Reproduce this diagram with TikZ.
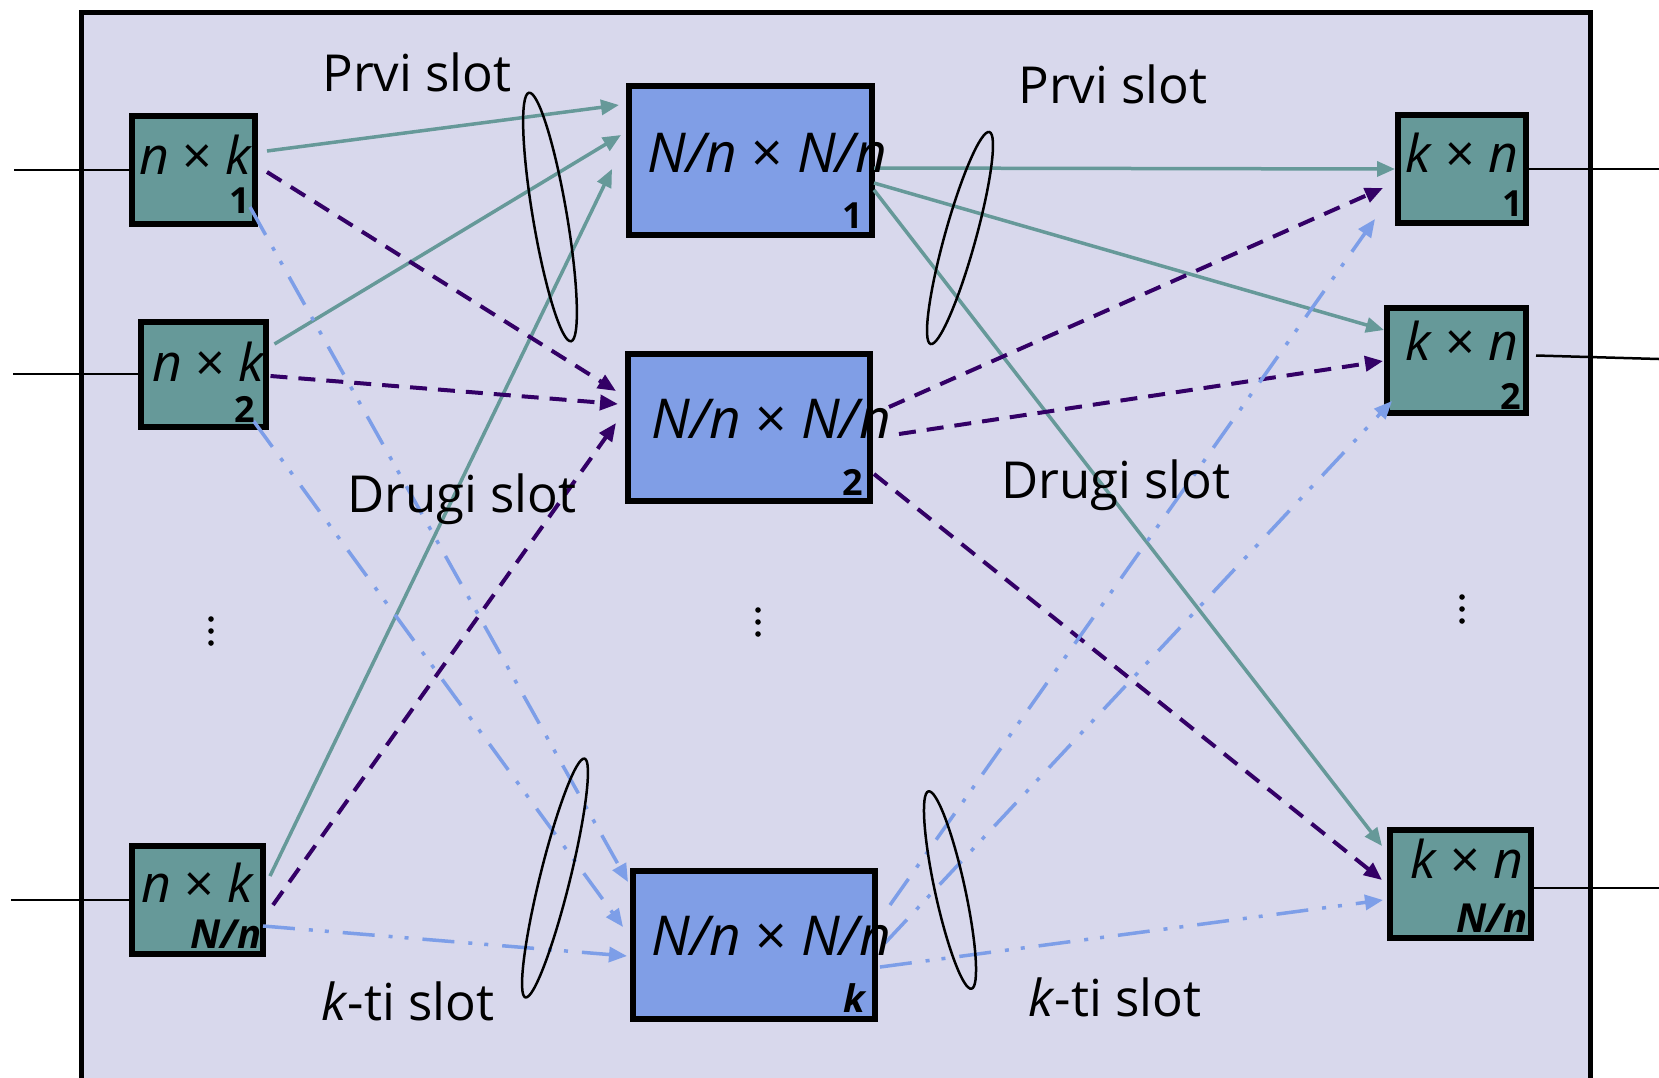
\documentclass[tikz,border=0pt]{standalone}
\usepackage{fontspec}
\setmainfont{Open Sans}
\usetikzlibrary{arrows.meta,calc}
\definecolor{bgc}{RGB}{216,216,236}
\definecolor{tealc}{RGB}{102,153,153}
\definecolor{bluebox}{RGB}{128,158,230}
\definecolor{purp}{RGB}{51,0,102}
\definecolor{lblue}{RGB}{125,158,232}
\begin{document}
\begin{tikzpicture}[x=1pt,y=-1pt,
  tbox/.style={draw=black,line width=6pt,fill=tealc,inner sep=0pt},
  mbox/.style={draw=black,line width=6pt,fill=bluebox,inner sep=0pt},
  biglab/.style={inner sep=0pt,anchor=base,font=\fontsize{52}{62}\selectfont},
  midlab/.style={inner sep=0pt,anchor=base,font=\fontsize{55}{64}\selectfont},
  sublab/.style={inner sep=0pt,anchor=base east,font=\bfseries\fontsize{36}{40}\selectfont},
  slotlab/.style={inner sep=0pt,anchor=base,font=\fontsize{51}{60}\selectfont},
  tip/.style={-{Triangle[length=18pt,width=15pt]}},
  tealline/.style={tip,draw=tealc,line width=3.5pt},
  purpline/.style={tip,draw=purp,line width=4pt,dash pattern=on 17pt off 11pt},
  blueline/.style={tip,draw=lblue,line width=3.5pt,dash pattern=on 32pt off 14pt on 4pt off 12pt on 4pt off 14pt},
  extline/.style={draw=black,line width=2.5pt},
  slotell/.style={draw=black,line width=2.5pt},
  vdot/.style={fill=black}]
\useasboundingbox (0,0) rectangle (1659,1077);
\fill[white] (0,0) rectangle (1659,1077);
\begin{scope}
\clip (0,0) rectangle (1659,1077);
\draw[fill=bgc,line width=5pt] (81,12) rectangle (1590,1100);
\end{scope}
% boxes
\node[tbox,minimum width=123pt,minimum height=108pt] (L1) at (193.5,170) {};
\node[tbox,minimum width=125pt,minimum height=105pt] (L2) at (203,374) {};
\node[tbox,minimum width=131pt,minimum height=108pt] (LN) at (197.5,900) {};
\node[mbox,minimum width=243pt,minimum height=149pt] (M1) at (750.5,160.5) {};
\node[mbox,minimum width=242pt,minimum height=147pt] (M2) at (749,427.5) {};
\node[mbox,minimum width=242pt,minimum height=148pt] (Mk) at (754,945) {};
\node[tbox,minimum width=128pt,minimum height=108pt] (R1) at (1462,169) {};
\node[tbox,minimum width=139pt,minimum height=105pt] (R2) at (1456.5,360.5) {};
\node[tbox,minimum width=141pt,minimum height=108pt] (RN) at (1460.5,884) {};
% external lines
\coordinate (iL1) at (14,170);
\coordinate (iL2) at (13,374);
\coordinate (iLN) at (11,900);
\coordinate (oR1) at (1659,169);
\coordinate (oR2) at (1659,359);
\coordinate (oRN) at (1659,888);
\draw[extline] (iL1) -- (L1.west);
\draw[extline] (iL2) -- (L2.west);
\draw[extline] (iLN) -- (LN.west);
\draw[extline] (R1.east) -- (oR1);
\draw[extline] ($(R2.east)+(7,-5)$) -- (oR2);
\draw[extline] ($(RN.east)+(0,4)$) -- (oRN);
% teal (first slot)
\draw[tealline] ($(L1.east)+(9,-19)$) -- ($(M1.west)+(-7,-55.5)$);
\draw[tealline] ($(L2.east)+(6,-30)$) -- ($(M1.west)+(-5,-25.5)$);
\draw[tealline] ($(LN.east)+(4,-24)$) -- ($(M1.west)+(-14,8.5)$);
\draw[tealline] ($(M1.east)+(-1,7.5)$) -- (R1.west);
\draw[tealline] ($(M1.east)+(-1,22.5)$) -- ($(R2.west)+(0,-30.5)$);
\draw[tealline] ($(M1.east)+(-1,29.5)$) -- ($(RN.west)+(-5,-38)$);
% purple (second slot)
\draw[purpline] ($(L1.east)+(9,2)$) -- ($(M2.west)+(-9,-36.5)$);
\draw[purpline] ($(L2.east)+(2,2)$) -- ($(M2.west)+(-7,-23.5)$);
\draw[purpline] ($(LN.east)+(7,5)$) -- ($(M2.west)+(-9,-4.5)$);
\draw[purpline] ($(M2.east)+(16,-20.5)$) -- ($(R1.west)+(-12,19)$);
\draw[purpline] ($(M2.east)+(26,6.5)$) -- ($(R2.west)+(-1,0.5)$);
\draw[purpline] ($(M2.east)+(1,46.5)$) -- ($(RN.west)+(-5,-4)$);
% blue (k-th slot)
\draw[blueline] ($(L1.east)+(-8,37)$) -- ($(Mk.west)+(-2,-63)$);
\draw[blueline] ($(L2.east)+(-15,47)$) -- ($(Mk.west)+(-7,-18)$);
\draw[blueline] ($(LN.east)+(-3,26)$) -- ($(Mk.west)+(-3,11)$);
\draw[blueline] ($(Mk.east)+(12,-40)$) -- ($(R1.west)+(-20,50)$);
\draw[blueline] ($(Mk.east)+(7,-2)$) -- ($(R2.west)+(8,40.5)$);
\draw[blueline] ($(Mk.east)+(2,22)$) -- ($(RN.west)+(-4,16)$);
% slot ellipses
\draw[slotell,rotate around={99.6:(550,217)}] (550,217) ellipse [x radius=126pt,y radius=17pt];
\draw[slotell,rotate around={74.5:(960,238)}] (960,238) ellipse [x radius=110pt,y radius=15.5pt];
\draw[slotell,rotate around={76.1:(555,878)}] (555,878) ellipse [x radius=123pt,y radius=15pt];
\draw[slotell,rotate around={102.3:(950,890)}] (950,890) ellipse [x radius=101pt,y radius=15pt];
% box labels
\node[biglab] (L1t) at ($(L1)+(2.5,4)$) {\textit{n} × \textit{k}};
\node[sublab] (L1s) at ($(L1)+(56.5,43)$) {1};
\node[biglab] (L2t) at ($(L2)+(6,7)$) {\textit{n} × \textit{k}};
\node[sublab] (L2s) at ($(L2)+(52,48)$) {2};
\node[biglab] (LNt) at ($(LN)+(0.5,2)$) {\textit{n} × \textit{k}};
\node[sublab,font=\bfseries\itshape\fontsize{40}{44}\selectfont] (LNs) at ($(LN)+(64.5,48)$) {N/n};
\node[midlab] (M1t) at ($(M1)+(16.5,11.5)$) {\textit{N/n} × \textit{N/n}};
\node[sublab] (M1s) at ($(M1)+(112.5,67.5)$) {1};
\node[midlab] (M2t) at ($(M2)+(22,10.5)$) {\textit{N/n} × \textit{N/n}};
\node[sublab] (M2s) at ($(M2)+(114,67.5)$) {2};
\node[midlab] (Mkt) at ($(Mk)+(17,10)$) {\textit{N/n} × \textit{N/n}};
\node[sublab,font=\bfseries\itshape\fontsize{38}{42}\selectfont] (Mks) at ($(Mk)+(111,67)$) {k};
\node[biglab] (R1t) at ($(R1)+(0,3)$) {\textit{k} × \textit{n}};
\node[sublab] (R1s) at ($(R1)+(61,47)$) {1};
\node[biglab] (R2t) at ($(R2)+(5.5,0)$) {\textit{k} × \textit{n}};
\node[sublab] (R2s) at ($(R2)+(64.5,48.5)$) {2};
\node[biglab] (RNt) at ($(RN)+(6.5,-6)$) {\textit{k} × \textit{n}};
\node[sublab,font=\bfseries\itshape\fontsize{40}{44}\selectfont] (RNs) at ($(RN)+(67.5,48)$) {N/n};
% slot labels
\node[slotlab] (p1) at (417,91) {Prvi slot};
\node[slotlab] (p2) at (1113,103) {Prvi slot};
\node[slotlab] (d1) at (462,512) {Drugi slot};
\node[slotlab] (d2) at (1116,498) {Drugi slot};
\node[slotlab] (k1) at (408,1020) {\textit{k}-ti slot};
\node[slotlab] (k2) at (1115,1016) {\textit{k}-ti slot};
% vertical dots
\foreach \yy in {619,631,643} \fill[vdot] (211,\yy) circle (2.8pt);
\foreach \yy in {610,622,634} \fill[vdot] (758,\yy) circle (2.8pt);
\foreach \yy in {597,609,621} \fill[vdot] (1462,\yy) circle (2.8pt);
\end{tikzpicture}
\end{document}
